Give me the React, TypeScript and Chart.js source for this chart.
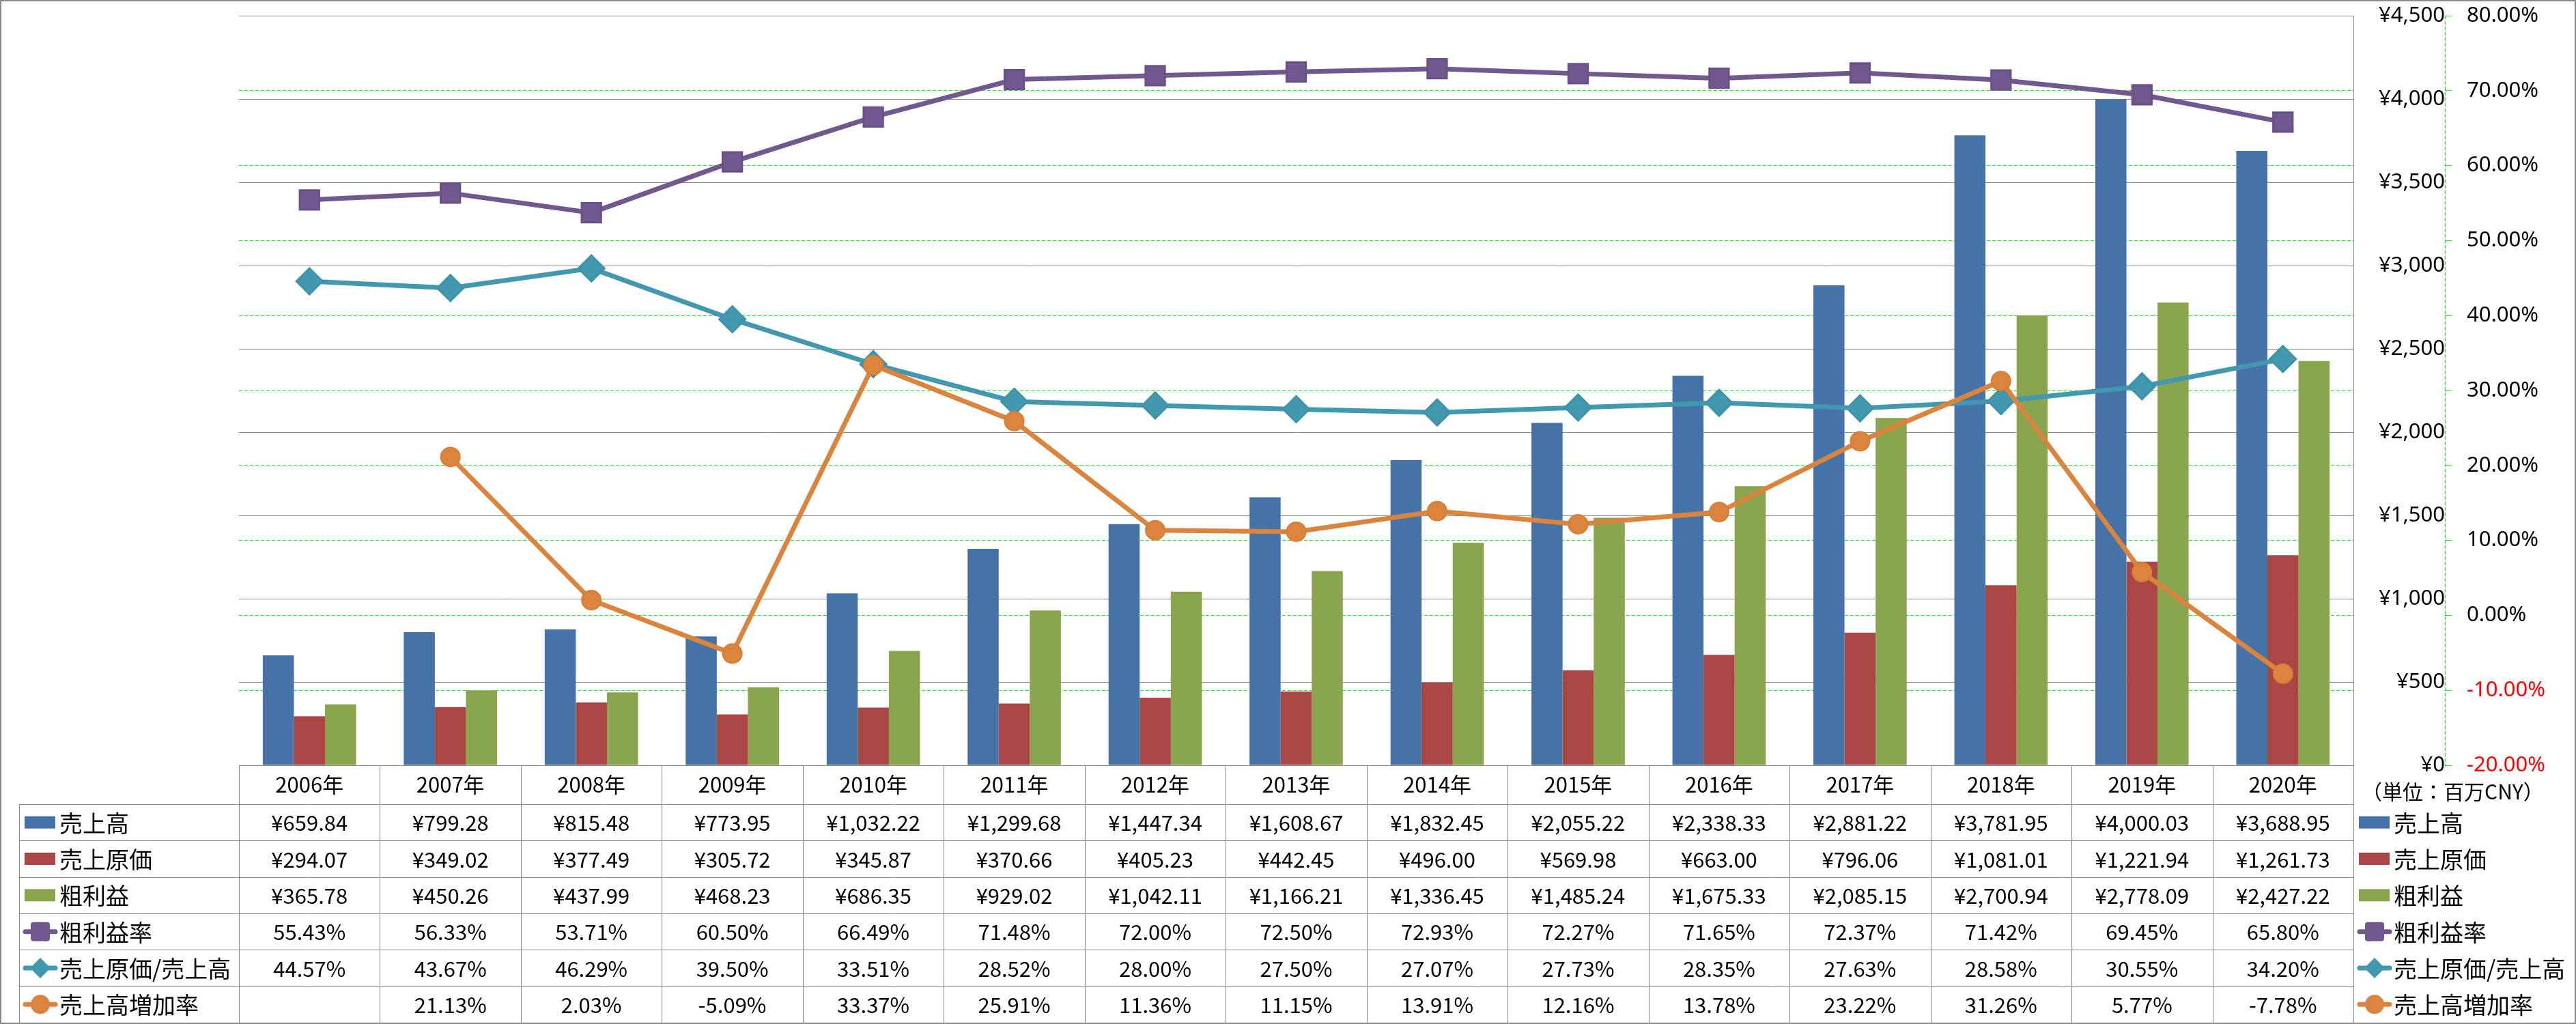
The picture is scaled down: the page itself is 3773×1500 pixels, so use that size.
import React, { useEffect, useRef } from 'react';
import { Chart, registerables } from 'chart.js';

Chart.register(...registerables);

// ---------------- DATA ----------------
const years = ['2006年', '2007年', '2008年', '2009年', '2010年', '2011年', '2012年', '2013年', '2014年', '2015年', '2016年', '2017年', '2018年', '2019年', '2020年'];
const sales = [659.84, 799.28, 815.48, 773.95, 1032.22, 1299.68, 1447.34, 1608.67, 1832.45, 2055.22, 2338.33, 2881.22, 3781.95, 4000.03, 3688.95];
const costOfSales = [294.07, 349.02, 377.49, 305.72, 345.87, 370.66, 405.23, 442.45, 496.0, 569.98, 663.0, 796.06, 1081.01, 1221.94, 1261.73];
const grossProfit = [365.78, 450.26, 437.99, 468.23, 686.35, 929.02, 1042.11, 1166.21, 1336.45, 1485.24, 1675.33, 2085.15, 2700.94, 2778.09, 2427.22];
const grossMargin = [55.43, 56.33, 53.71, 60.5, 66.49, 71.48, 72.0, 72.5, 72.93, 72.27, 71.65, 72.37, 71.42, 69.45, 65.8];
const costRatio = [44.57, 43.67, 46.29, 39.5, 33.51, 28.52, 28.0, 27.5, 27.07, 27.73, 28.35, 27.63, 28.58, 30.55, 34.2];
const salesGrowth: (number | null)[] = [null, 21.13, 2.03, -5.09, 33.37, 25.91, 11.36, 11.15, 13.91, 12.16, 13.78, 23.22, 31.26, 5.77, -7.78];

const seriesLabels = ['売上高', '売上原価', '粗利益', '粗利益率', '売上原価/売上高', '売上高増加率'];
const unitLabel = '（単位：百万CNY）';

const yenAxis = { min: 0, max: 4500, step: 500 };
const pctAxis = { min: -20, max: 80, step: 10 };

// ---------------- STYLE ----------------
const C_BLUE = '#4572A7';
const C_RED = '#AA4643';
const C_GREEN = '#89A54E';
const C_PURPLE = '#71588F';
const C_TEAL = '#4198AF';
const C_ORANGE = '#DB843D';
const GRID_GRAY = '#888888';
const GREEN_LINE = '#00FF00';
const GREEN_DASH = [5, 3];
const AXIS_FONT = '"Noto Sans", "Noto Sans CJK JP", sans-serif';
const TABLE_FONT_FAMILY = '"Noto Sans CJK JP", "Noto Sans", sans-serif';

const fmtYen = (v: number | null) =>
  v == null ? '' : '¥' + v.toLocaleString('en-US', { minimumFractionDigits: 2, maximumFractionDigits: 2 });
const fmtPct = (v: number | null) => (v == null ? '' : v.toFixed(2) + '%');

type RowDef = { label: string; values: (number | null)[]; fmt: (v: number | null) => string; kind: 'bar' | 'line'; color: string; marker?: string };

const tableRows: RowDef[] = [
  { label: seriesLabels[0], values: sales, fmt: fmtYen, kind: 'bar', color: C_BLUE },
  { label: seriesLabels[1], values: costOfSales, fmt: fmtYen, kind: 'bar', color: C_RED },
  { label: seriesLabels[2], values: grossProfit, fmt: fmtYen, kind: 'bar', color: C_GREEN },
  { label: seriesLabels[3], values: grossMargin, fmt: fmtPct, kind: 'line', color: C_PURPLE, marker: 'rect' },
  { label: seriesLabels[4], values: costRatio, fmt: fmtPct, kind: 'line', color: C_TEAL, marker: 'rectRot' },
  { label: seriesLabels[5], values: salesGrowth, fmt: fmtPct, kind: 'line', color: C_ORANGE, marker: 'circle' },
];

function legendMarker(ctx: CanvasRenderingContext2D, row: RowDef, x0: number, cy: number) {
  ctx.save();
  if (row.kind === 'bar') {
    ctx.fillStyle = row.color;
    ctx.fillRect(x0 + 2, cy - 9, 45, 18);
  } else {
    const cx = x0 + 25;
    ctx.strokeStyle = row.color;
    ctx.lineWidth = 7;
    ctx.lineCap = 'round';
    ctx.beginPath();
    ctx.moveTo(cx - 22, cy);
    ctx.lineTo(cx + 22, cy);
    ctx.stroke();
    ctx.fillStyle = row.color;
    ctx.beginPath();
    if (row.marker === 'rect') {
      const s = 14, r = 4;
      const l = cx - s, t = cy - s, w = 2 * s, h = 2 * s;
      ctx.moveTo(l + r, t);
      ctx.lineTo(l + w - r, t);
      ctx.quadraticCurveTo(l + w, t, l + w, t + r);
      ctx.lineTo(l + w, t + h - r);
      ctx.quadraticCurveTo(l + w, t + h, l + w - r, t + h);
      ctx.lineTo(l + r, t + h);
      ctx.quadraticCurveTo(l, t + h, l, t + h - r);
      ctx.lineTo(l, t + r);
      ctx.quadraticCurveTo(l, t, l + r, t);
      ctx.closePath();
    } else if (row.marker === 'rectRot') {
      ctx.moveTo(cx, cy - 15);
      ctx.lineTo(cx + 15, cy);
      ctx.lineTo(cx, cy + 15);
      ctx.lineTo(cx - 15, cy);
      ctx.closePath();
    } else {
      ctx.arc(cx, cy, 14, 0, Math.PI * 2);
    }
    ctx.fill();
  }
  ctx.restore();
}

const tablePlugin = {
  id: 'dataTable',
  afterDraw(chart: any) {
    const ctx: CanvasRenderingContext2D = chart.ctx;
    const xs = chart.scales.x;
    const area = chart.chartArea;
    const n = years.length;
    const step = xs.getPixelForValue(1) - xs.getPixelForValue(0);
    const colLeft = xs.getPixelForValue(0) - step / 2;
    const colRight = colLeft + step * n;
    const headTop = area.bottom;
    const headBot = headTop + 57;
    const bottom = chart.height - 2;
    const rowH = (bottom - headBot) / tableRows.length;
    const legendLeft = 28;
    const px = (v: number) => Math.round(v) + 0.5;

    ctx.save();
    // dashed % axis line
    const y1 = chart.scales.y1;
    ctx.strokeStyle = GREEN_LINE;
    ctx.lineWidth = 1;
    ctx.setLineDash(GREEN_DASH);
    ctx.beginPath();
    ctx.moveTo(px(y1.left), area.top);
    ctx.lineTo(px(y1.left), area.bottom);
    ctx.stroke();
    ctx.setLineDash([]);

    // table grid
    ctx.strokeStyle = GRID_GRAY;
    ctx.lineWidth = 1;
    ctx.beginPath();
    for (let i = 0; i <= n; i++) {
      const x = px(colLeft + step * i);
      ctx.moveTo(x, headTop);
      ctx.lineTo(x, bottom);
    }
    ctx.moveTo(px(legendLeft), headBot);
    ctx.lineTo(px(legendLeft), bottom);
    for (let r = 0; r < tableRows.length; r++) {
      const y = px(headBot + rowH * r);
      ctx.moveTo(legendLeft, y);
      ctx.lineTo(colRight, y);
    }
    ctx.stroke();

    // header texts
    ctx.fillStyle = '#000';
    ctx.textAlign = 'center';
    ctx.textBaseline = 'middle';
    ctx.font = '31px ' + TABLE_FONT_FAMILY;
    for (let i = 0; i < n; i++) {
      ctx.fillText(years[i], xs.getPixelForValue(i), (headTop + headBot) / 2);
    }
    // data rows
    tableRows.forEach((row, r) => {
      const cy = headBot + rowH * (r + 0.5);
      ctx.font = '31px ' + TABLE_FONT_FAMILY;
      ctx.textAlign = 'center';
      ctx.fillStyle = '#000';
      for (let i = 0; i < n; i++) {
        const s = row.fmt(row.values[i]);
        if (s) ctx.fillText(s, xs.getPixelForValue(i), cy + 1);
      }
      // left legend cell
      legendMarker(ctx, row, 34, cy);
      ctx.fillStyle = '#000';
      ctx.textAlign = 'left';
      ctx.font = '34px ' + TABLE_FONT_FAMILY;
      ctx.fillText(row.label, 87, cy + 1);
      // right legend
      legendMarker(ctx, row, colRight + 6, cy);
      ctx.fillStyle = '#000';
      ctx.fillText(row.label, colRight + 59, cy + 1);
    });
    // unit label
    ctx.font = '30px ' + TABLE_FONT_FAMILY;
    ctx.textAlign = 'left';
    ctx.fillText(unitLabel, colRight + 12, (headTop + headBot) / 2 + 10);

    // outer border
    ctx.strokeStyle = GRID_GRAY;
    ctx.lineWidth = 2;
    ctx.strokeRect(1, 1, chart.width - 2, chart.height - 2);
    ctx.restore();
  },
};

export default function App() {
  const canvasRef = useRef<HTMLCanvasElement | null>(null);

  useEffect(() => {
    document.body.style.margin = '0';
    const canvas = canvasRef.current;
    if (!canvas) return;
    Chart.defaults.font.family = AXIS_FONT;
    Chart.defaults.color = '#000';

    const chart = new Chart(canvas, {
      type: 'bar',
      data: {
        labels: years,
        datasets: [
          { type: 'bar', label: seriesLabels[0], data: sales, backgroundColor: C_BLUE, yAxisID: 'y', order: 4, categoryPercentage: 0.662, barPercentage: 1 },
          { type: 'bar', label: seriesLabels[1], data: costOfSales, backgroundColor: C_RED, yAxisID: 'y', order: 4, categoryPercentage: 0.662, barPercentage: 1 },
          { type: 'bar', label: seriesLabels[2], data: grossProfit, backgroundColor: C_GREEN, yAxisID: 'y', order: 4, categoryPercentage: 0.662, barPercentage: 1 },
          {
            type: 'line', label: seriesLabels[3], data: grossMargin, yAxisID: 'y1', order: 3,
            borderColor: C_PURPLE, backgroundColor: C_PURPLE, borderWidth: 7, tension: 0,
            pointStyle: 'rect', pointRadius: 20, pointBorderWidth: 3, pointBackgroundColor: C_PURPLE, pointBorderColor: '#6A5088',
          },
          {
            type: 'line', label: seriesLabels[4], data: costRatio, yAxisID: 'y1', order: 2,
            borderColor: C_TEAL, backgroundColor: C_TEAL, borderWidth: 7, tension: 0,
            pointStyle: 'rectRot', pointRadius: 19, pointBorderWidth: 3, pointBackgroundColor: C_TEAL, pointBorderColor: '#3E93AA',
          },
          {
            type: 'line', label: seriesLabels[5], data: salesGrowth, yAxisID: 'y1', order: 1,
            borderColor: C_ORANGE, backgroundColor: C_ORANGE, borderWidth: 7, tension: 0,
            pointStyle: 'circle', pointRadius: 14, pointBorderWidth: 2, pointBackgroundColor: C_ORANGE, pointBorderColor: '#D67E38',
          },
        ] as any,
      },
      options: {
        responsive: false,
        animation: false,
        devicePixelRatio: 1,
        events: [],
        layout: { padding: { left: 350, top: 22, right: 0, bottom: 379 } },
        plugins: { legend: { display: false }, tooltip: { enabled: false } },
        scales: {
          x: { display: false, offset: true },
          y: {
            position: 'right',
            min: yenAxis.min,
            max: yenAxis.max,
            ticks: {
              stepSize: yenAxis.step,
              callback: (v: any) => '¥' + Number(v).toLocaleString('en-US'),
              color: '#000',
              font: { size: 31, family: AXIS_FONT },
              crossAlign: 'far',
              padding: 33,
            },
            grid: { color: GRID_GRAY, lineWidth: 1, drawTicks: false },
            border: { display: true, color: GRID_GRAY, width: 1 },
            afterFit: (s: any) => { s.width = 134; s.paddingTop = 0; s.paddingBottom = 0; },
          },
          y1: {
            position: 'right',
            min: pctAxis.min,
            max: pctAxis.max,
            ticks: {
              stepSize: pctAxis.step,
              callback: (v: any) => Number(v).toFixed(2) + '%',
              color: (c: any) => (c.tick && c.tick.value < 0 ? '#FF0000' : '#000'),
              font: { size: 31, family: AXIS_FONT },
              padding: 22,
            },
            grid: {
              color: (c: any) => (c.tick && (c.tick.value === pctAxis.min || c.tick.value === pctAxis.max) ? 'rgba(0,0,0,0)' : GREEN_LINE),
              tickColor: GREEN_LINE,
              lineWidth: 1,
              drawTicks: true,
              tickLength: 10,
              drawOnChartArea: true,
            },
            border: { display: false, dash: GREEN_DASH },
            afterFit: (s: any) => { s.width = 192; s.paddingTop = 0; s.paddingBottom = 0; },
          },
        },
      } as any,
      plugins: [tablePlugin as any],
    });
    return () => chart.destroy();
  }, []);

  return (
    <div style={{ position: 'absolute', left: 0, top: 0, width: 3773, height: 1500, background: '#fff', overflow: 'hidden' }}>
      <canvas ref={canvasRef} width={3773} height={1500} style={{ display: 'block' }} />
    </div>
  );
}
